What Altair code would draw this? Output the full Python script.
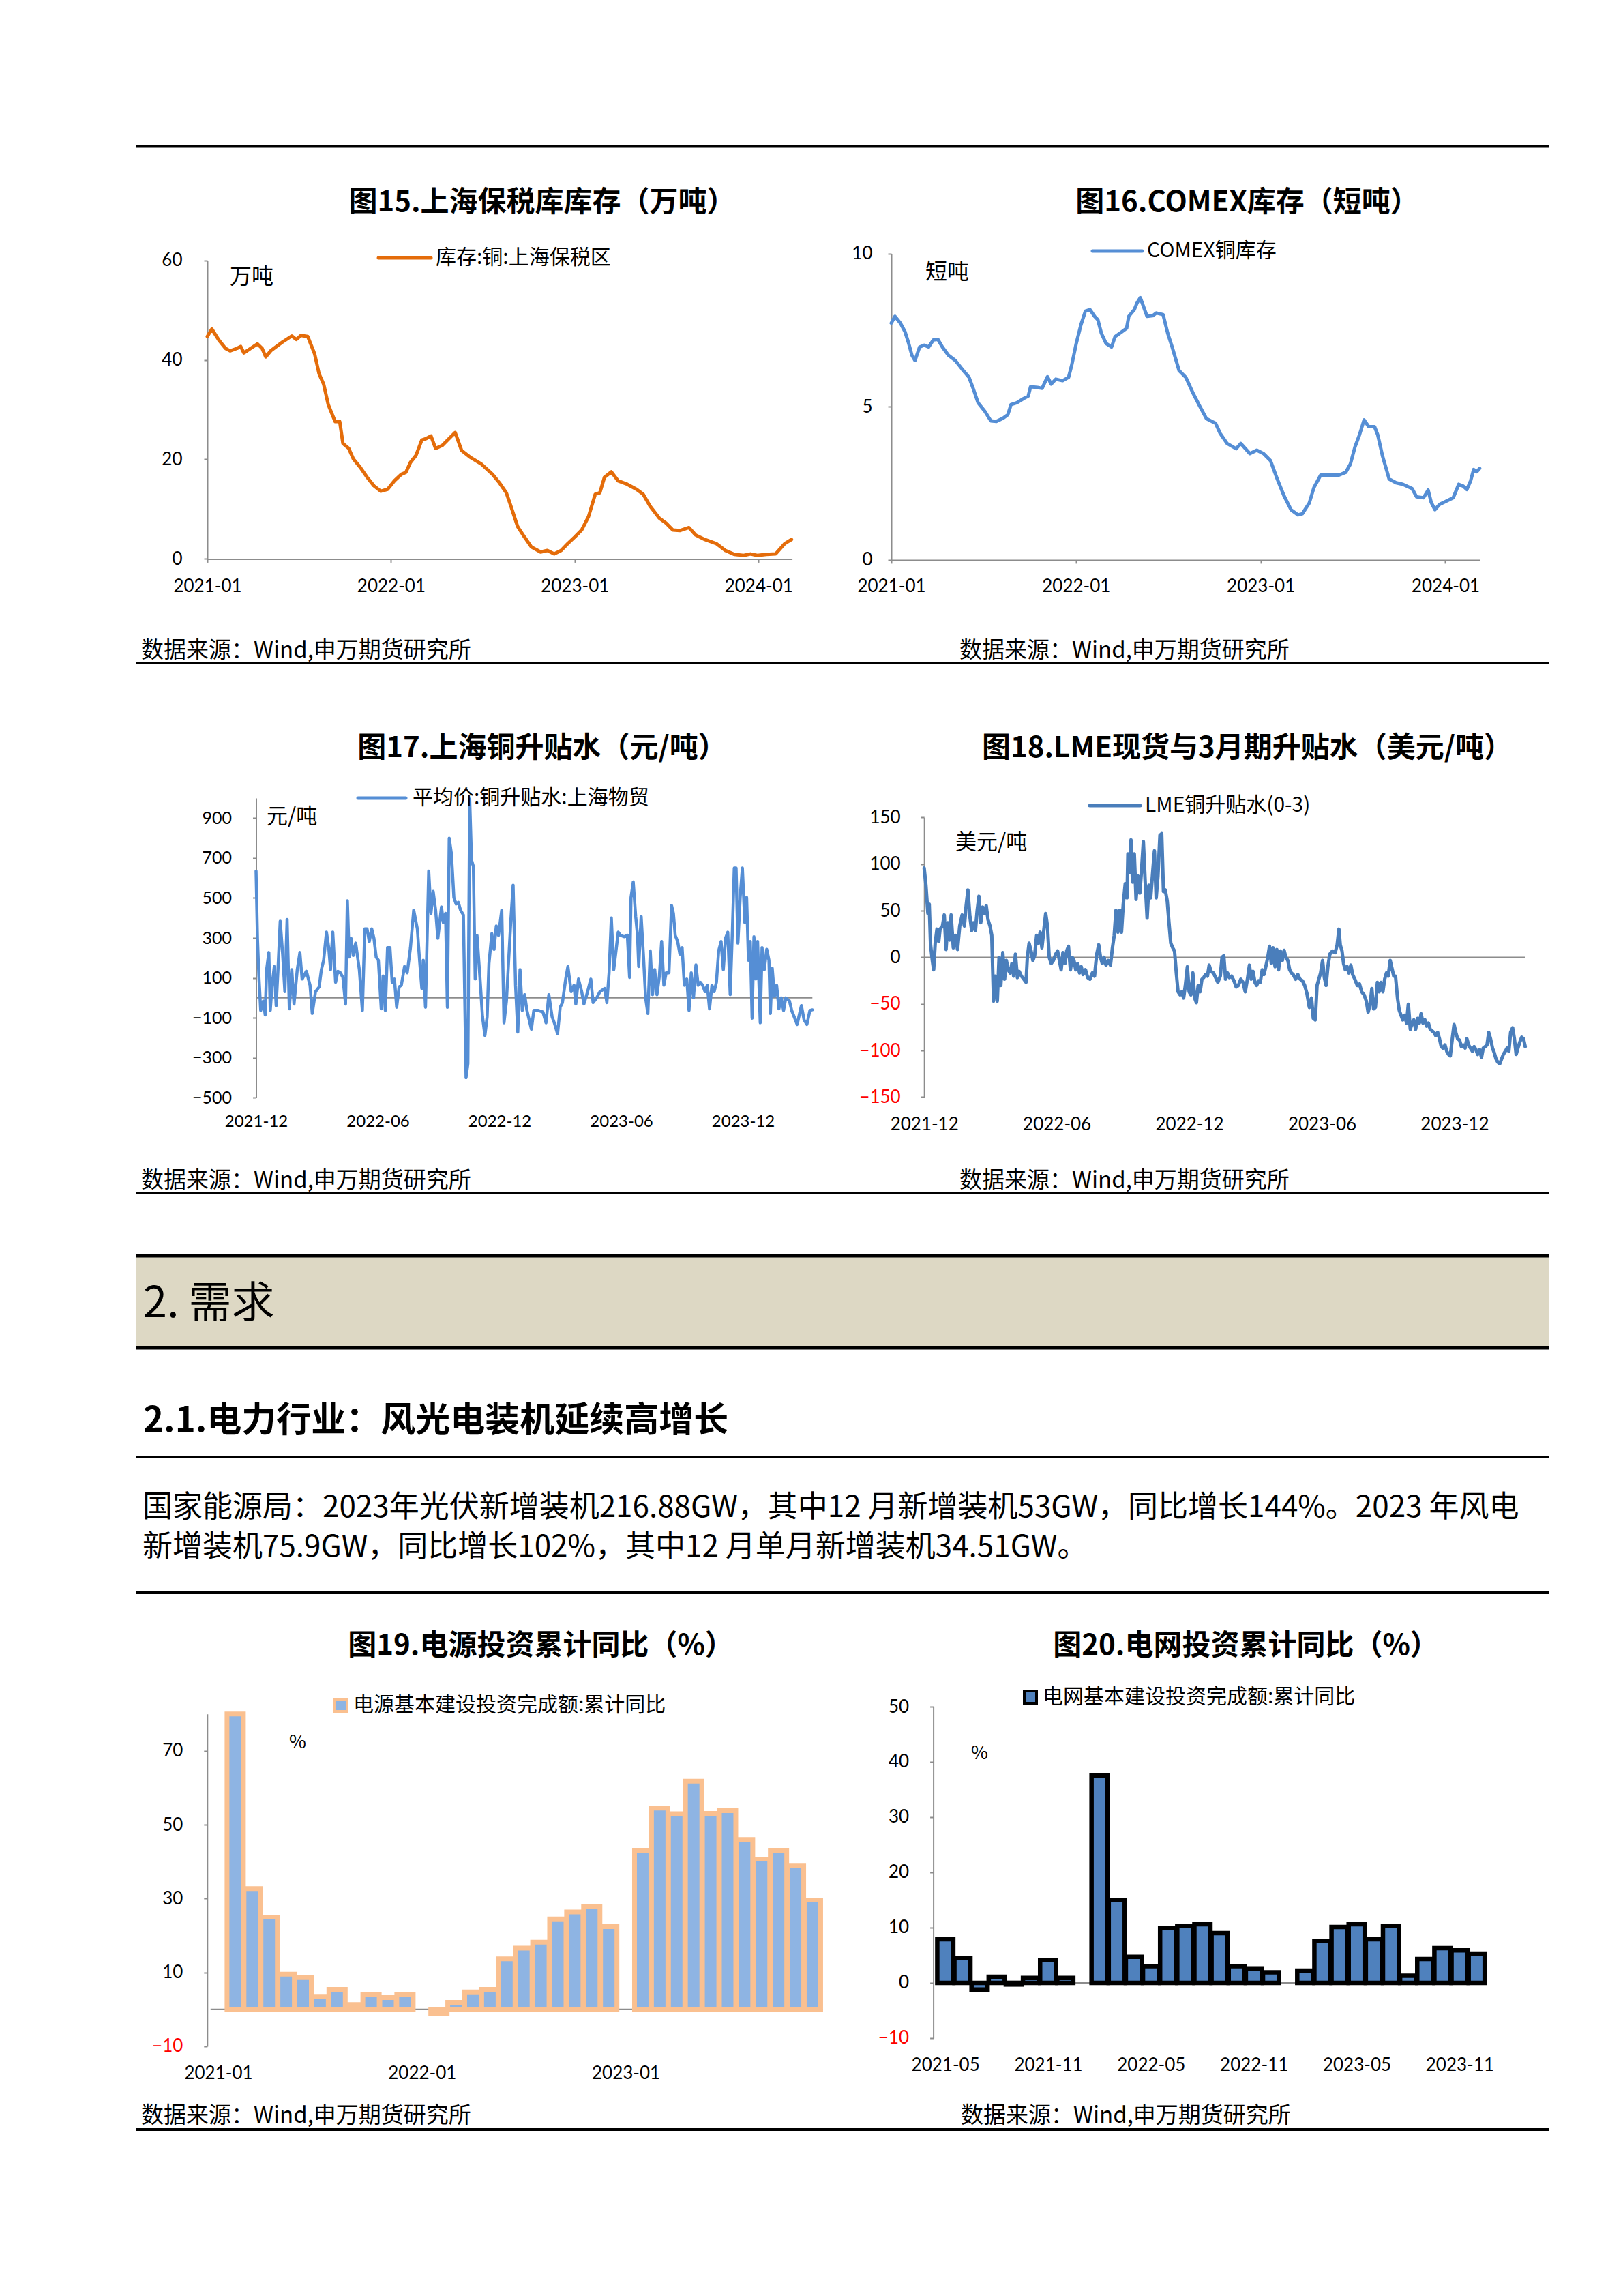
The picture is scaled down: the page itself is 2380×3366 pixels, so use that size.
import altair as alt
import pandas as pd

W, H = 2380, 3366
GRAY = "#8C8C8C"
CJK = "Noto Sans CJK SC"
NUM = "Lato"

# ---------------- data ----------------
# Fig 15: Shanghai bonded copper stocks (10k t); x = months since 2021-01
c15_month = [0, 0.3, 0.75, 1.19, 1.49, 1.94, 2.18, 2.39, 2.83, 3.28, 3.58, 3.82, 4.17, 4.92, 5.52, 5.81, 6.11,
             6.56, 7.01, 7.3, 7.6, 7.9, 8.35, 8.65, 8.86, 9.24, 9.54, 9.99, 10.44, 10.88, 11.33, 11.78, 12.22,
             12.67, 12.97, 13.27, 13.63, 14.01, 14.31, 14.61, 14.91, 15.35, 15.8, 16.19, 16.61, 17.14, 17.89,
             18.63, 19.08, 19.53, 19.83, 20.27, 20.72, 21.17, 21.77, 22.21, 22.66, 23.11, 23.55, 24, 24.45,
             24.9, 25.34, 25.64, 25.94, 26.39, 26.83, 27.43, 28.03, 28.47, 28.92, 29.52, 29.96, 30.41, 30.86,
             31.46, 31.9, 32.5, 33.24, 33.84, 34.44, 35.03, 35.48, 35.93, 36.52, 37.12, 37.72, 38.16]
c15_value = [44.7, 46.2, 44, 42.3, 41.8, 42.3, 42.7, 41.4, 42.3, 43.2, 42.3, 40.6, 41.9, 43.6, 44.8, 44.1, 44.9,
             44.7, 41.2, 37.2, 35.1, 31, 27.6, 27.6, 23.2, 22.2, 20.1, 18.4, 16.4, 14.7, 13.6, 14, 15.7,
             17, 17.4, 19.4, 20.8, 23.9, 24.2, 24.7, 22.2, 22.8, 24.2, 25.4, 21.8, 20.5, 19.1,
             17, 15.3, 13.3, 10.6, 6.5, 4.4, 2.4, 1.4, 1.7, 1, 1.7, 3.1, 4.4, 5.8,
             8.5, 13, 13.3, 16.4, 17.5, 15.7, 15, 14, 13, 10.6, 8.2, 7.2, 5.8, 5.7,
             6.3, 4.8, 3.9, 3.1, 1.7, 0.9, 0.7, 1, 0.7, 0.9, 1, 3.1, 3.9]

# Fig 16: COMEX copper stocks (short tons); x = months since 2021-01
c16_month = [0, 0.24, 0.59, 0.89, 1.13, 1.34, 1.54, 1.84, 2.14, 2.43, 2.73, 3.03, 3.32, 3.71, 4.16, 4.6, 5.05,
             5.34, 5.64, 6.08, 6.47, 6.83, 7.27, 7.57, 7.78, 8.16, 8.61, 8.9, 9.05, 9.5, 9.8, 10.15, 10.39,
             10.69, 11.13, 11.52, 11.72, 12.02, 12.32, 12.61, 12.91, 13.21, 13.42, 13.65, 13.95, 14.31, 14.54,
             14.99, 15.29, 15.43, 15.79, 15.97, 16.18, 16.38, 16.62, 16.98, 17.22, 17.66, 17.96, 18.25, 18.7,
             19.14, 19.59, 20.04, 20.48, 21.07, 21.37, 21.82, 22.41, 22.71, 23.3, 23.75, 24.19, 24.64, 25.08,
             25.53, 25.97, 26.42, 26.71, 27.16, 27.46, 27.9, 28.5, 29.09, 29.53, 29.83, 30.13, 30.42, 30.72,
             31.02, 31.4, 31.61, 31.91, 32.35, 32.8, 33.24, 33.84, 34.13, 34.58, 34.88, 35.08, 35.32, 35.62,
             36.06, 36.51, 36.87, 37.16, 37.4, 37.64, 37.84, 38.05, 38.23]
c16_value = [7.73, 7.95, 7.73, 7.45, 7.07, 6.68, 6.51, 6.95, 7.01, 6.95, 7.18, 7.2, 6.95, 6.68, 6.51, 6.23, 5.96,
             5.57, 5.13, 4.85, 4.54, 4.52, 4.63, 4.74, 5.07, 5.13, 5.27, 5.35, 5.65, 5.63, 5.6, 5.98, 5.74,
             5.9, 5.85, 5.96, 6.35, 7.07, 7.67, 8.12, 8.17, 7.95, 7.84, 7.4, 7.07, 6.95, 7.29,
             7.45, 7.56, 7.95, 8.17, 8.39, 8.56, 8.28, 7.95, 7.97, 8.06, 8.01, 7.4, 6.95, 6.18,
             5.96, 5.46, 5.02, 4.61, 4.46, 4.13, 3.8, 3.63, 3.8, 3.47, 3.58, 3.47, 3.24, 2.64,
             2.08, 1.64, 1.47, 1.51, 1.86, 2.36, 2.77, 2.77, 2.77, 2.86, 3.13, 3.69, 4.08, 4.57,
             4.35, 4.35, 4.08, 3.41, 2.64, 2.52, 2.47, 2.33, 2.06, 2.03, 2.28, 1.88, 1.64, 1.81,
             1.92, 2.03, 2.47, 2.41, 2.3, 2.58, 2.95, 2.88, 2.99]

# Fig 17: Shanghai copper premium (yuan/t); (months since 2021-12, value)
c17_points = [
    (0, 635), (0.07, 298), (0.14, 110), (0.23, -63), (0.36, -16), (0.45, -86), (0.52, 141), (0.63, 227), (0.70, -63), (0.79, 63),
    (0.90, 157), (0.99, -39), (1.08, 141), (1.19, 384), (1.31, 219), (1.42, 31), (1.53, 392), (1.64, -55), (1.76, 141), (1.87, -31),
    (2.03, 141), (2.16, 227), (2.27, 94), (2.48, 133), (2.66, 63), (2.77, -78), (2.93, 31), (3.11, 55), (3.22, 141), (3.33, 188),
    (3.47, 329), (3.58, 251), (3.67, 141), (3.78, 329), (3.92, 78), (4.03, 133), (4.16, 125), (4.28, 102), (4.41, -31), (4.50, 486),
    (4.59, 204), (4.68, 298), (4.79, 212), (4.91, 274), (5.09, 141), (5.24, -63), (5.36, 345), (5.47, 345), (5.58, 282), (5.70, 345),
    (5.81, 298), (5.92, 204), (6.03, 188), (6.17, -55), (6.26, 110), (6.37, -63), (6.48, 251), (6.60, 251), (6.71, 78), (6.82, 94),
    (6.93, -47), (7.05, 55), (7.16, 63), (7.32, 157), (7.45, 125), (7.61, 251), (7.77, 439), (7.95, 345), (8.06, 188), (8.17, 47),
    (8.24, 188), (8.35, -47), (8.51, 635), (8.62, 423), (8.73, 533), (8.85, 439), (8.96, 298), (9.14, 455), (9.23, 376), (9.34, 423),
    (9.43, -47), (9.52, 799), (9.63, 721), (9.75, 502), (9.86, 470), (9.97, 478), (10.08, 439), (10.22, 415), (10.35, -400), (10.44, -329),
    (10.53, 995), (10.62, 690), (10.71, 658), (10.80, 94), (10.89, 313), (11.03, 110), (11.16, -94), (11.28, -188), (11.39, -94), (11.48, 172),
    (11.62, 321), (11.73, 243), (11.84, 360), (11.95, 313), (12.11, 439), (12.22, -125), (12.34, -16), (12.45, 188), (12.56, 392), (12.67, 564),
    (12.79, 63), (12.90, -172), (13.01, 141), (13.12, -63), (13.24, 16), (13.35, -63), (13.46, -110), (13.57, -157), (13.69, -63), (13.91, -63),
    (14.14, -71), (14.29, -125), (14.43, 16), (14.59, -94), (14.70, -125), (14.86, -180), (14.99, -47), (15.10, -24), (15.26, 94), (15.37, 157),
    (15.53, 31), (15.67, 63), (15.76, -31), (15.89, 94), (16.05, 31), (16.16, -31), (16.34, 31), (16.50, 94), (16.61, -24), (16.79, 0),
    (16.95, 31), (17.18, 47), (17.29, -24), (17.40, 125), (17.51, 400), (17.63, 141), (17.74, 235), (17.85, 329), (17.96, 313), (18.14, 306),
    (18.30, 313), (18.41, 102), (18.48, 502), (18.59, 580), (18.71, 408), (18.80, 313), (18.86, 157), (18.98, 408), (19.09, 219), (19.20, 0),
    (19.31, -78), (19.43, 235), (19.54, 16), (19.65, 141), (19.76, 16), (19.88, 110), (19.99, 282), (20.10, 63), (20.21, 125), (20.35, 125),
    (20.48, 462), (20.57, 423), (20.66, 313), (20.78, 282), (20.89, 219), (21.00, 251), (21.11, 63), (21.23, 94), (21.34, -63), (21.45, 125),
    (21.56, 0), (21.68, 165), (21.79, 63), (21.90, 78), (22.01, 63), (22.13, 31), (22.24, 63), (22.35, -55), (22.47, 63), (22.58, 31),
    (22.69, 78), (22.80, 235), (22.92, 282), (23.03, 141), (23.14, 298), (23.25, 329), (23.37, 16), (23.48, 345), (23.57, 650), (23.66, 650),
    (23.75, 274), (23.86, 502), (23.97, 650), (24.09, 376), (24.18, 502), (24.27, 188), (24.36, 282), (24.45, -102), (24.54, 306), (24.63, 94),
    (24.72, 282), (24.85, -125), (24.94, 251), (25.05, 141), (25.17, 243), (25.28, 188), (25.35, -78), (25.44, 149), (25.55, 8), (25.66, 63),
    (25.77, -55), (25.89, 0), (26.00, -63), (26.11, 0), (26.29, -16), (26.40, -63), (26.52, -94), (26.67, -133), (26.79, -78), (26.88, -39),
    (27.01, -110), (27.15, -133), (27.30, -63), (27.42, -60)]

# Fig 18: LME cash-3M spread (USD/t); (months since 2021-12, value)
c18_points = [
    (0, 95.8), (0.08, 77.3), (0.17, 47), (0.23, 57), (0.29, 13.4), (0.37, -3.4), (0.43, -13.4), (0.50, 15.1), (0.58, 30.2), (0.66, 16.8),
    (0.72, 30.2), (0.83, 33.6), (0.91, 45.4), (0.99, 8.4), (1.07, 37), (1.16, 18.5), (1.22, 45.4), (1.32, 10.1), (1.41, 23.5), (1.51, 8.4),
    (1.61, 33.6), (1.72, 45.4), (1.82, 33.6), (1.90, 55.4), (1.98, 72.2), (2.07, 43.7), (2.15, 28.6), (2.23, 37), (2.32, 28.6), (2.40, 50.4),
    (2.48, 65.5), (2.56, 37), (2.65, 53.8), (2.73, 47), (2.81, 55.4), (2.89, 40.3), (2.98, 33.6), (3.06, 23.5), (3.14, -47), (3.22, -20.2),
    (3.31, -47), (3.39, 0), (3.47, -30.2), (3.56, 5), (3.64, -23.5), (3.72, -3.4), (3.80, -13.4), (3.89, -16.8), (3.97, -6.7), (4.05, -20.2),
    (4.13, 3.4), (4.22, -21.8), (4.30, -15.1), (4.40, -20.2), (4.51, -23.5), (4.61, -26.9), (4.67, 0), (4.75, 15.1), (4.84, 6.7), (4.92, -3.4),
    (5.00, 1.7), (5.09, 23.5), (5.17, 15.1), (5.25, 26.9), (5.33, 10.1), (5.42, 30.2), (5.50, 47), (5.58, 33.6), (5.66, 0), (5.75, -6.7),
    (5.85, -3.4), (5.95, 3.4), (6.04, 6.7), (6.12, -3.4), (6.20, -13.4), (6.28, 5), (6.37, -6.7), (6.45, 6.7), (6.53, 11.8), (6.62, -13.4),
    (6.70, 0), (6.78, -3.4), (6.86, -13.4), (6.95, -6.7), (7.03, -16.8), (7.11, -10.1), (7.19, -18.5), (7.30, -13.4), (7.40, -21.8), (7.50, -23.5),
    (7.61, -16.8), (7.71, -20.2), (7.81, 3.4), (7.90, 13.4), (7.98, 0), (8.06, -6.7), (8.14, 0), (8.23, -8.4), (8.33, -3.4), (8.43, -8.4),
    (8.52, 10.1), (8.60, 23.5), (8.68, 50.4), (8.77, 26.9), (8.85, 50.4), (8.93, 26.9), (9.01, 57), (9.10, 79), (9.18, 63.8), (9.22, 110.9),
    (9.28, 90.7), (9.36, 126), (9.43, 80.6), (9.51, 110.9), (9.59, 62.2), (9.67, 87.4), (9.76, 68.9), (9.84, 94.1), (9.92, 124.3), (10.01, 77.3),
    (10.09, 42), (10.17, 77.3), (10.25, 63.8), (10.34, 90.7), (10.42, 114.2), (10.50, 63.8), (10.58, 87.4), (10.67, 131), (10.75, 132.7), (10.83, 70.6),
    (10.91, 72.2), (11.00, 60.5), (11.08, 37), (11.16, 15.1), (11.25, 10.1), (11.33, 6.7), (11.41, -16.8), (11.49, -37), (11.58, -40.3), (11.66, -37),
    (11.74, -43.7), (11.82, -30.2), (11.91, -10.1), (11.99, -37), (12.07, -40.3), (12.16, -16.8), (12.24, -43.7), (12.32, -48.7), (12.40, -30.2), (12.49, -37),
    (12.57, -23.5), (12.65, -21.8), (12.73, -18.5), (12.82, -20.2), (12.90, -8.4), (12.98, -15.1), (13.09, -16.8), (13.19, -21.8), (13.29, -26.9), (13.40, -20.2),
    (13.48, 0), (13.56, 1.7), (13.64, -23.5), (13.73, -16.8), (13.81, -21.8), (13.91, -20.2), (14.02, -25.2), (14.12, -31.9), (14.22, -30.2), (14.33, -23.5),
    (14.43, -26.9), (14.53, -37), (14.64, -21.8), (14.72, -8.4), (14.80, -23.5), (14.88, -15.1), (14.97, -26.9), (15.05, -30.2), (15.13, -25.2), (15.21, -26.9),
    (15.30, -13.4), (15.38, -18.5), (15.46, -10.1), (15.55, 0), (15.63, 11.8), (15.71, -6.7), (15.79, 10.1), (15.88, -10.1), (15.96, 8.4), (16.04, -13.4),
    (16.12, 6.7), (16.21, -3.4), (16.29, 7.4), (16.37, 0), (16.46, -3.4), (16.54, -13.4), (16.62, -16.8), (16.70, -18.5), (16.81, -23.5), (16.91, -18.5),
    (17.01, -23.5), (17.12, -25.2), (17.22, -30.2), (17.32, -38.6), (17.43, -53.8), (17.53, -43.7), (17.61, -65.5), (17.70, -67.2), (17.78, -30.2), (17.86, -23.5),
    (17.94, -16.8), (18.03, -3.4), (18.11, -21.8), (18.19, -30.2), (18.27, -10.1), (18.36, 3.4), (18.48, 6.7), (18.60, 5), (18.69, 13.4), (18.77, 30.2),
    (18.83, 13.4), (18.91, 6.7), (18.98, -6.7), (19.06, -13.4), (19.14, -10.1), (19.22, -16.8), (19.31, -8.4), (19.39, -18.5), (19.49, -23.5), (19.60, -30.2),
    (19.70, -28.6), (19.80, -37), (19.91, -40.3), (20.01, -47), (20.09, -58.8), (20.18, -50.4), (20.26, -33.6), (20.34, -55.4), (20.42, -53.8), (20.51, -26.9),
    (20.59, -37), (20.67, -26.9), (20.76, -37), (20.84, -23.5), (20.92, -16.8), (21.00, -20.2), (21.09, -3.4), (21.17, -11.8), (21.25, -20.2), (21.33, -20.2),
    (21.42, -43.7), (21.50, -57.1), (21.58, -62.2), (21.66, -67.2), (21.75, -62.2), (21.83, -70.6), (21.91, -50.4), (22.00, -77.3), (22.08, -70.6), (22.16, -67.2),
    (22.24, -77.3), (22.33, -65.5), (22.41, -70.6), (22.49, -60.5), (22.57, -70.6), (22.66, -67.2), (22.74, -73.9), (22.82, -70.6), (22.90, -77.3), (22.99, -79),
    (23.07, -80.6), (23.15, -84), (23.24, -80.6), (23.32, -87.4), (23.40, -95.8), (23.48, -97.4), (23.57, -94.1), (23.65, -100.8), (23.73, -104.2), (23.81, -105.8),
    (23.90, -87.4), (23.98, -72.2), (24.06, -80.6), (24.14, -87.4), (24.23, -89), (24.31, -95.8), (24.39, -94.1), (24.48, -97.4), (24.56, -87.4), (24.64, -94.1),
    (24.72, -97.4), (24.81, -100.8), (24.89, -95.8), (24.97, -99.1), (25.05, -104.2), (25.14, -99.1), (25.22, -107.5), (25.30, -97.4), (25.39, -95.8), (25.47, -94.1),
    (25.55, -80.6), (25.63, -87.4), (25.72, -97.4), (25.80, -102.5), (25.88, -109.2), (25.96, -112.6), (26.05, -114.2), (26.13, -109.2), (26.21, -104.2), (26.30, -100.8),
    (26.38, -97.4), (26.46, -100.8), (26.54, -80.6), (26.63, -75.6), (26.71, -87.4), (26.79, -104.2), (26.87, -97.4), (26.96, -90.7), (27.04, -85.7), (27.12, -87.4),
    (27.20, -95.8)]

# Fig 19: power-source investment, cumulative YoY (%); x = months since 2021-01
c19_month = [1, 2, 3, 4, 5, 6, 7, 8, 9, 10, 11,
             13, 14, 15, 16, 17, 18, 19, 20, 21, 22, 23,
             25, 26, 27, 28, 29, 30, 31, 32, 33, 34, 35]
c19_value = [100, 32.7, 25.0, 9.5, 8.6, 3.5, 5.4, 1.3, 4.0, 3.2, 4.0,
             -1.1, 1.9, 4.7, 5.4, 13.7, 16.6, 18.2, 24.5, 26.4, 27.9, 22.4,
             43.1, 54.5, 53.0, 61.8, 53.1, 53.8, 46.0, 40.7, 43.1, 39.0, 29.6]

# Fig 20: grid investment, cumulative YoY (%); x = months since 2021-05
c20_month = [0, 1, 2, 3, 4, 5, 6, 7,
             9, 10, 11, 12, 13, 14, 15, 16, 17, 18, 19,
             21, 22, 23, 24, 25, 26, 27, 28, 29, 30, 31]
c20_value = [7.9, 4.5, -1.2, 1.1, -0.3, 0.9, 4.1, 0.9,
             37.5, 15.0, 4.7, 3.0, 9.9, 10.3, 10.6, 9.0, 3.0, 2.6, 1.9,
             2.2, 7.6, 10.1, 10.6, 7.9, 10.3, 1.3, 4.3, 6.3, 5.9, 5.3]

# tick labels
c15_ticks, c15_labels = [0, 12, 24, 36], ["2021-01", "2022-01", "2023-01", "2024-01"]
c17_ticks, c17_labels = [0, 6, 12, 18, 24], ["2021-12", "2022-06", "2022-12", "2023-06", "2023-12"]
c19_ticks, c19_labels = [0, 12, 24], ["2021-01", "2022-01", "2023-01"]
c20_ticks, c20_labels = [0, 6, 12, 18, 24, 30], ["2021-05", "2021-11", "2022-05", "2022-11", "2023-05", "2023-11"]

titles = ["图15.上海保税库库存（万吨）", "图16.COMEX库存（短吨）", "图17.上海铜升贴水（元/吨）",
          "图18.LME现货与3月期升贴水（美元/吨）", "图19.电源投资累计同比（%）", "图20.电网投资累计同比（%）"]
legend_names = ["库存:铜:上海保税区", "COMEX铜库存", "平均价:铜升贴水:上海物贸", "LME铜升贴水(0-3)",
                "电源基本建设投资完成额:累计同比", "电网基本建设投资完成额:累计同比"]
units = ["万吨", "短吨", "元/吨", "美元/吨", "%", "%"]
source = "数据来源：Wind,申万期货研究所"
section_title = "2. 需求"
sub_title = "2.1.电力行业：风光电装机延续高增长"
para_lines = ["国家能源局：2023年光伏新增装机216.88GW，其中12 月新增装机53GW，同比增长144%。2023 年风电",
              "新增装机75.9GW，同比增长102%，其中12 月单月新增装机34.51GW。"]


# ---------------- helpers ----------------
def label_expr(labels, step):
    arr = "[" + ",".join("'%s'" % l for l in labels) + "]"
    return "%s[round(datum.value/%d)]" % (arr, step)


def x_axis(ybot, ticks, labels, step, show_line, pad, fs=26):
    return alt.Axis(orient="bottom", offset=ybot - H, values=ticks, labelExpr=label_expr(labels, step),
                    title=None, grid=False, domain=show_line, ticks=show_line, domainColor=GRAY, domainWidth=2,
                    tickColor=GRAY, tickWidth=2, tickSize=5, labelFont=NUM, labelFontSize=fs,
                    labelColor="#000000", labelPadding=pad, labelFlush=False, labelOverlap=False, labelAngle=0)


def y_axis(xleft, ticks, pad, red_neg, fs=26):
    lc = ({"condition": {"test": "datum.value < 0", "value": "#FF0000"}, "value": "#000000"}
          if red_neg else "#000000")
    return alt.Axis(orient="left", offset=-xleft, values=ticks, title=None, grid=False, format="d",
                    domainColor=GRAY, domainWidth=2, tickColor=GRAY, tickWidth=2, tickSize=5,
                    labelFont=NUM, labelFontSize=fs, labelColor=lc, labelPadding=pad,
                    labelFlush=False, labelOverlap=False)


def sc(dom, rng, clamp=False):
    return alt.Scale(domain=dom, range=rng, nice=False, zero=False, clamp=clamp)


def zero_rule(xdom, rng_x, ydom, rng_y, clamp=False):
    return alt.Chart(pd.DataFrame({"z": [0]})).mark_rule(color=GRAY, strokeWidth=2).encode(
        x=alt.datum(xdom[0], scale=sc(xdom, rng_x)), x2=alt.datum(xdom[1]),
        y=alt.datum(0, scale=sc(ydom, rng_y, clamp)))


def line_panel(months, values, xdom, rx, ydom, ry, color, sw, xax, yax, zero=False):
    df = pd.DataFrame({"m": months, "v": values})
    line = alt.Chart(df).mark_line(color=color, strokeWidth=sw, strokeJoin="round", strokeCap="round").encode(
        x=alt.X("m:Q", scale=sc(xdom, rx), axis=xax),
        y=alt.Y("v:Q", scale=sc(ydom, ry), axis=yax))
    if zero:
        return alt.layer(zero_rule(xdom, rx, ydom, ry), line)
    return line


def bar_panel(months, values, xdom, rx, ydom, ry, fill, stroke, sw, size, xax, yax, clamp=False):
    df = pd.DataFrame({"m": months, "v": values})
    bars = alt.Chart(df).mark_bar(orient="vertical", size=size, fill=fill, stroke=stroke,
                                  strokeWidth=sw).encode(
        x=alt.X("m:Q", scale=sc(xdom, rx), axis=xax),
        y=alt.Y("v:Q", scale=sc(ydom, ry, clamp), axis=yax, stack=None),
        y2=alt.datum(0))
    return alt.layer(zero_rule(xdom, rx, ydom, ry, clamp), bars)


# ---------------- panels ----------------
p15 = line_panel(c15_month, c15_value, [0, 38.2], [304, 1161.6], [0, 60], [819.4, 381.6], "#E46C0A", 5,
                 x_axis(819.4, c15_ticks, c15_labels, 12, True, 22), y_axis(304, [0, 20, 40, 60], 32, False))
p16 = line_panel(c16_month, c16_value, [0, 38.23], [1307, 2169.8], [0, 10], [820.9, 371.7], "#558ED5", 5,
                 x_axis(820.9, c15_ticks, c15_labels, 12, True, 21), y_axis(1307, [0, 5, 10], 23, False))
c17m, c17v = zip(*c17_points)
p17 = line_panel(list(c17m), list(c17v), [0, 27.42], [375.5, 1191.3], [-500, 1000], [1609.3, 1170],
                 "#558ED5", 4.5,
                 x_axis(1609.3, c17_ticks, c17_labels, 6, False, 23, fs=24),
                 y_axis(375.5, [-500, -300, -100, 100, 300, 500, 700, 900], 31, False, fs=25), zero=True)
c18m, c18v = zip(*c18_points)
p18 = line_panel(list(c18m), list(c18v), [0, 27.2], [1355.2, 2236.6], [-150, 150], [1608.4, 1198.4],
                 "#4A7EBB", 5,
                 x_axis(1608.4, c17_ticks, c17_labels, 6, False, 27),
                 y_axis(1355.2, [-150, -100, -50, 0, 50, 100, 150], 30, True), zero=True)
p19 = bar_panel(c19_month, c19_value, [-0.45, 35.6], [303.8, 1211.4], [-10, 80], [2999.9, 2512.8],
                "#8EB4E3", "#FAC090", 7, 24,
                x_axis(2999.9, c19_ticks, c19_labels, 12, False, 27),
                y_axis(303.8, [-10, 10, 30, 50, 70], 31, True), clamp=True)
p20 = bar_panel(c20_month, c20_value, [-0.5, 31.5], [1368.6, 2183], [-10, 50], [2987.9, 2502],
                "#4F81BD", "#000000", 6.5, 23.5,
                x_axis(2987.9, c20_ticks, c20_labels, 6, False, 27),
                y_axis(1368.6, [-10, 0, 10, 20, 30, 40, 50], 31, True))


# ---------------- page decorations ----------------
def px(field):
    return dict(scale=None, axis=None)


box = alt.Chart(pd.DataFrame({"x": [200], "x2": [2272], "y": [1841], "y2": [1976]})).mark_rect(
    color="#DDD8C4").encode(x=alt.X("x:Q", **px("x")), x2="x2:Q", y=alt.Y("y:Q", **px("y")), y2="y2:Q")

rules_df = pd.DataFrame({"x": [200] * 8, "x2": [2272] * 8,
                         "y": [214.6, 972, 1749, 1841, 1976, 2136, 2335, 3122],
                         "w": [4, 4, 4, 5, 5, 4, 4, 4]})
rules = alt.Chart(rules_df).mark_rule(color="#000000").encode(
    x=alt.X("x:Q", **px("x")), x2="x2:Q", y=alt.Y("y:Q", **px("y")),
    strokeWidth=alt.StrokeWidth("w:Q", scale=None))

leg_lines_df = pd.DataFrame({"x": [555, 1602, 525, 1598], "x2": [632, 1675, 595, 1672],
                             "y": [378, 368, 1170, 1181],
                             "c": ["#E46C0A", "#558ED5", "#558ED5", "#4A7EBB"]})
leg_lines = alt.Chart(leg_lines_df).mark_rule(strokeWidth=5, strokeCap="round").encode(
    x=alt.X("x:Q", **px("x")), x2="x2:Q", y=alt.Y("y:Q", **px("y")),
    color=alt.Color("c:N", scale=None))

leg_sq_df = pd.DataFrame({"x": [491, 1502], "x2": [509, 1520], "y": [2491, 2479], "y2": [2509, 2497],
                          "f": ["#8EB4E3", "#4F81BD"], "s": ["#FAC090", "#000000"]})
leg_sq = alt.Chart(leg_sq_df).mark_rect(strokeWidth=4).encode(
    x=alt.X("x:Q", **px("x")), x2="x2:Q", y=alt.Y("y:Q", **px("y")), y2="y2:Q",
    fill=alt.Fill("f:N", scale=None), stroke=alt.Stroke("s:N", scale=None))

title_df = pd.DataFrame({"t": titles, "x": [795, 1829, 795, 1829, 793, 1827],
                         "y": [297, 297, 1097, 1097, 2413, 2413]})
title_layer = alt.Chart(title_df).mark_text(font=CJK, fontWeight="bold", fontSize=42, align="center",
                                            baseline="middle", color="#000000").encode(
    x=alt.X("x:Q", **px("x")), y=alt.Y("y:Q", **px("y")), text="t:N")

txt_rows = []
for (sx, sy) in [(207, 954), (1407, 954), (207, 1731), (1407, 1731), (207, 3102), (1409, 3102)]:
    txt_rows.append((source, sx, sy, 33))
for t, lx, ly in zip(legend_names, [639, 1682, 605, 1679, 518, 1529], [378, 368, 1170, 1181, 2500, 2488]):
    txt_rows.append((t, lx, ly, 30))
for t, ux, uy, us in zip(units, [337, 1357, 391, 1401, 424, 1424], [406, 399, 1198, 1236, 2555, 2571],
                         [32, 32, 31, 31, 27, 27]):
    txt_rows.append((t, ux, uy, us))
txt_rows.append((section_title, 210, 1912, 63))
txt_rows.append((para_lines[0], 209, 2211, 44))
txt_rows.append((para_lines[1], 209, 2269, 44))
txt_df = pd.DataFrame(txt_rows, columns=["t", "x", "y", "s"])
text_layer = alt.Chart(txt_df).mark_text(font=CJK, align="left", baseline="middle", color="#000000").encode(
    x=alt.X("x:Q", **px("x")), y=alt.Y("y:Q", **px("y")), text="t:N",
    size=alt.Size("s:Q", scale=None))

head_df = pd.DataFrame({"t": [sub_title], "x": [210], "y": [2084]})
head_layer = alt.Chart(head_df).mark_text(font=CJK, fontWeight="bold", fontSize=51, align="left",
                                          baseline="middle", color="#000000").encode(
    x=alt.X("x:Q", **px("x")), y=alt.Y("y:Q", **px("y")), text="t:N")

chart = alt.layer(box, rules, p15, p16, p17, p18, p19, p20, leg_lines, leg_sq,
                  title_layer, text_layer, head_layer).resolve_scale(
    x="independent", y="independent").properties(
    width=W, height=H, padding=0, autosize="none", background="white").configure_view(stroke=None)

chart.save("out.html", embed_options={"renderer": "svg", "actions": False})
